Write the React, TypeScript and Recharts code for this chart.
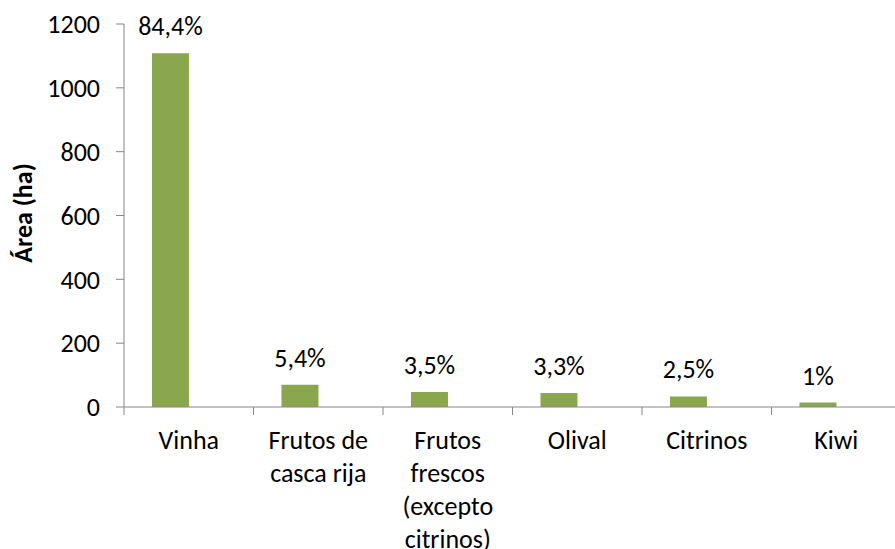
import { Bar, BarChart, XAxis, YAxis, LabelList, Label } from 'recharts';

const categories = ['Vinha', 'Frutos de\ncasca rija', 'Frutos\nfrescos\n(excepto\ncitrinos)', 'Olival', 'Citrinos', 'Kiwi'];
const areas = [1108, 70, 47, 44, 33, 14];
const shares = ['84,4%', '5,4%', '3,5%', '3,3%', '2,5%', '1%'];
const yTicks = [0, 200, 400, 600, 800, 1000, 1200];

const chartData = categories.map((name, i) => ({
  name,
  area: areas[i],
  share: shares[i],
  empty: 0,
}));

const FONT = 'Carlito, Calibri, Lato, sans-serif';
const FONT_SIZE = 26;
const AXIS_COLOR = '#868686';
const CHART_W = 910;
const PLOT_LEFT = 124;
const PLOT_RIGHT_MARGIN = 9;
const band = (CHART_W - PLOT_LEFT - PLOT_RIGHT_MARGIN) / categories.length;

const CategoryTick = (props: any) => {
  const { x, y, payload, index } = props;
  const lines = String(payload.value).split('\n');
  const last = index === categories.length - 1;
  return (
    <g>
      <line x1={x - band / 2} x2={x - band / 2} y1={y} y2={y + 8} stroke={AXIS_COLOR} />
      {last && <line x1={x + band / 2} x2={x + band / 2} y1={y} y2={y + 8} stroke={AXIS_COLOR} />}
      {lines.map((line, i) => (
        <text key={i} x={x} y={y + 42 + i * 33} textAnchor='middle' fontSize={FONT_SIZE} fontFamily={FONT} fill='#000'>
          {line}
        </text>
      ))}
    </g>
  );
};

const ShareLabel = (props: any) => {
  const { x, y, width, value } = props;
  return (
    <text x={x + width / 2} y={y - 27} textAnchor='middle' dominantBaseline='central' fontSize={FONT_SIZE} fontFamily={FONT} fill='#000'>
      {value}
    </text>
  );
};

export default function App() {
  return (
    <div style={{ position: 'absolute', left: 0, top: 0, width: 895, height: 549, overflow: 'hidden', background: '#fff' }}>
      <BarChart
        width={CHART_W}
        height={549}
        data={chartData}
        margin={{ top: 24, right: PLOT_RIGHT_MARGIN, left: 0, bottom: 0 }}
        barCategoryGap='21.6%'
        barGap={0}
      >
        <XAxis
          dataKey='name'
          height={142}
          interval={0}
          axisLine={{ stroke: AXIS_COLOR }}
          tickLine={false}
          tickSize={0}
          tickMargin={0}
          tick={<CategoryTick />}
        />
        <YAxis
          width={PLOT_LEFT}
          domain={[0, 1200]}
          ticks={yTicks}
          interval={0}
          axisLine={{ stroke: AXIS_COLOR }}
          tickLine={{ stroke: AXIS_COLOR }}
          tickSize={8}
          tickMargin={16}
          tick={{ fill: '#000', fontSize: FONT_SIZE, fontFamily: FONT }}
        >
          <Label
            content={() => (
              <text
                x={23}
                y={213}
                transform='rotate(-90 23 213)'
                textAnchor='middle'
                dominantBaseline='central'
                fontSize={FONT_SIZE}
                fontWeight='bold'
                fontFamily={FONT}
                fill='#000'
              >
                Área (ha)
              </text>
            )}
          />
        </YAxis>
        <Bar dataKey='area' fill='#8AA64E' isAnimationActive={false}>
          <LabelList dataKey='share' content={<ShareLabel />} />
        </Bar>
        <Bar dataKey='empty' fill='transparent' isAnimationActive={false} />
      </BarChart>
    </div>
  );
}
